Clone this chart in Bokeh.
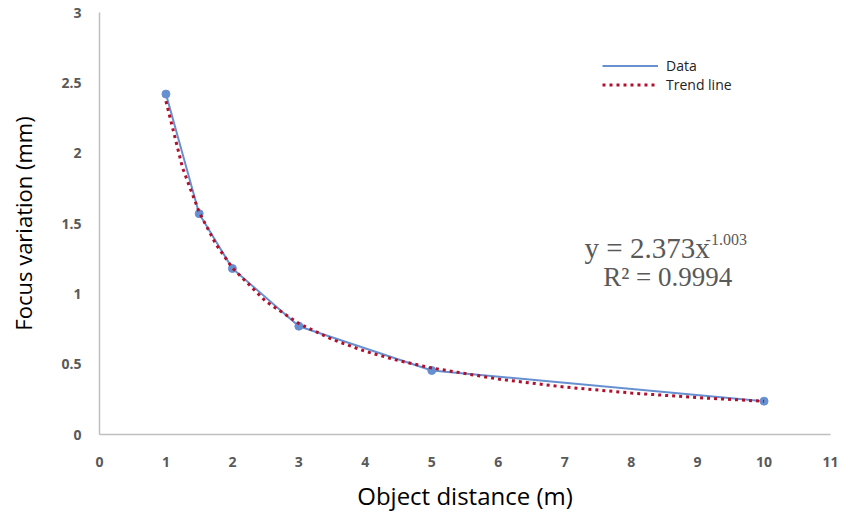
from bokeh.plotting import figure
from bokeh.models import Label, Legend, LegendItem, FixedTicker, Range1d
from bokeh.embed import file_html
from bokeh.resources import INLINE

# Data
distance = [1, 1.5, 2, 3, 5, 10]
focus = [2.42, 1.57, 1.18, 0.77, 0.455, 0.237]

# Power-law trend line as drawn (y = 2.373 x^-1.003)
trend_x = [1, 1.25, 1.5, 1.75, 2, 2.5, 3, 3.5, 4, 4.5, 5, 6, 7, 8, 9, 10]
trend_y = [2.37, 1.895, 1.58, 1.354, 1.184, 0.947, 0.789, 0.676, 0.591, 0.525,
           0.473, 0.394, 0.337, 0.295, 0.262, 0.236]

x_ticks = [0, 1, 2, 3, 4, 5, 6, 7, 8, 9, 10, 11]
y_ticks = [0, 0.5, 1, 1.5, 2, 2.5, 3]
y_tick_labels = {0: "0", 0.5: "0.5", 1: "1", 1.5: "1.5", 2: "2", 2.5: "2.5", 3: "3"}

p = figure(width=841, height=514, output_backend="svg", toolbar_location=None,
           x_range=Range1d(0, 11), y_range=Range1d(0, 3),
           min_border_left=99, min_border_right=11, min_border_top=12, min_border_bottom=76)
p.outline_line_color = None
p.xgrid.visible = False
p.ygrid.visible = False
p.background_fill_color = "white"
p.border_fill_color = "white"

for ax in (p.xaxis[0], p.yaxis[0]):
    ax.axis_line_color = "#bfbfbf"
    ax.axis_line_width = 1.5
    ax.major_tick_line_color = None
    ax.minor_tick_line_color = None
    ax.major_tick_out = 0
    ax.major_tick_in = 0
    ax.major_label_text_color = "#595959"
    ax.major_label_text_font = "Open Sans"
    ax.major_label_text_font_style = "bold"
    ax.major_label_text_font_size = "14px"
    ax.axis_label_text_font = "Open Sans"
    ax.axis_label_text_font_style = "normal"
    ax.axis_label_text_color = "#000000"

p.xaxis.axis_label_text_font_size = "24px"
p.yaxis.axis_label_text_font_size = "22px"
p.xaxis.ticker = FixedTicker(ticks=x_ticks)
p.yaxis.ticker = FixedTicker(ticks=y_ticks)
p.yaxis.major_label_overrides = y_tick_labels
p.xaxis.major_label_standoff = 22
p.yaxis.major_label_standoff = 18
p.xaxis.axis_label = "Object distance (m)"
p.yaxis.axis_label = "Focus variation (mm)"
p.xaxis.axis_label_standoff = 9
p.yaxis.axis_label_standoff = 20

blue = "#6790d0"
red = "#b0102c"

data_line = p.line(distance, focus, line_color=blue, line_width=2)
p.scatter(distance, focus, size=8, fill_color=blue, line_color=blue)
trend = p.line(trend_x, trend_y, line_color=red, line_width=3, line_dash="3 4")

legend = Legend(items=[LegendItem(label="Data", renderers=[data_line]),
                       LegendItem(label="Trend line", renderers=[trend])],
                location=(503, 340))
legend.border_line_color = None
legend.background_fill_alpha = 0
legend.padding = 0
legend.margin = 0
legend.spacing = 0
legend.glyph_width = 56
legend.glyph_height = 19
legend.label_height = 19
legend.label_standoff = 8
legend.label_text_font = "Open Sans"
legend.label_text_font_size = "14px"
legend.label_text_color = "#222222"
p.add_layout(legend, "center")

eq_font = "Liberation Serif"
p.add_layout(Label(x=7.30, y=1.325, text="y = 2.373x", text_font=eq_font,
                   text_font_size="29px", text_color="#595959", text_baseline="alphabetic"))
p.add_layout(Label(x=9.12, y=1.385, text="-1.003", text_font=eq_font,
                   text_font_size="16px", text_color="#595959", text_baseline="alphabetic"))
p.add_layout(Label(x=7.58, y=1.117, text="R² = 0.9994", text_font=eq_font,
                   text_font_size="27px", text_color="#595959", text_baseline="alphabetic"))

open("out.html", "w").write(file_html(p, INLINE))
